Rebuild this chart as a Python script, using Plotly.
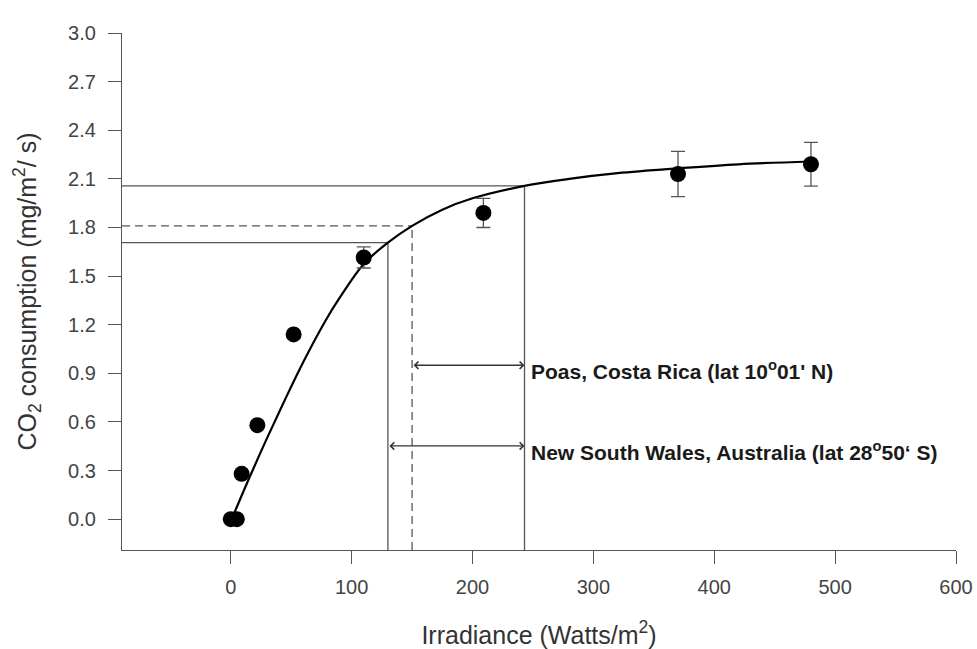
import plotly.graph_objects as go

# measured data (irradiance W/m2, CO2 consumption mg/m2/s)
irradiance = [0, 5, 9, 22, 52, 110, 209, 370, 480]
co2 = [0.0, 0.0, 0.28, 0.58, 1.14, 1.615, 1.89, 2.13, 2.19]
co2_err = [0, 0, 0, 0, 0, 0.065, 0.09, 0.14, 0.135]

# fitted curve
curve_x = [3, 15, 30, 45, 60, 78, 90, 110, 130, 150, 175, 200, 243, 280, 320, 370, 420, 480]
curve_y = [0.04, 0.25, 0.50, 0.74, 0.97, 1.22, 1.365, 1.575, 1.706, 1.81, 1.91, 1.98,
           2.057, 2.10, 2.135, 2.165, 2.19, 2.207]

# reference crossings on the curve
ref_x = [130, 150, 243]
ref_y = [1.706, 1.81, 2.057]

# annotated ranges
range_labels = ["Poas, Costa Rica (lat 10<sup>o</sup>01' N)",
                "New South Wales, Australia (lat 28<sup>o</sup>50‘ S)"]
range_start = [150, 130]
range_end = [243, 243]
range_level = [0.95, 0.452]

x_ticks = [0, 100, 200, 300, 400, 500, 600]
y_ticks = [0.0, 0.3, 0.6, 0.9, 1.2, 1.5, 1.8, 2.1, 2.4, 2.7, 3.0]

x_min, x_max = -90, 600
y_min, y_max = -0.19, 3.0

fig = go.Figure()

fig.add_trace(go.Scatter(x=curve_x, y=curve_y, mode="lines",
                         line=dict(color="black", width=2.2, shape="spline"),
                         hoverinfo="skip", showlegend=False))

fig.add_trace(go.Scatter(x=irradiance, y=co2, mode="markers",
                         marker=dict(color="black", size=16),
                         error_y=dict(type="data", array=co2_err, color="#555555",
                                      thickness=1.3, width=7),
                         showlegend=False))

dashes = ["solid", "8px,5px", "solid"]
for xv, yv, d in zip(ref_x, ref_y, dashes):
    fig.add_shape(type="line", x0=x_min, x1=xv, y0=yv, y1=yv, xref="x", yref="y",
                  line=dict(color="#555555", width=1.3, dash=d), layer="below")
    fig.add_shape(type="line", x0=xv, x1=xv, y0=y_min, y1=yv, xref="x", yref="y",
                  line=dict(color="#555555", width=1.3, dash=d), layer="below")

for lab, xs, xe, yl in zip(range_labels, range_start, range_end, range_level):
    fig.add_annotation(x=xe, y=yl, ax=xs, ay=yl, xref="x", yref="y", axref="x", ayref="y",
                       showarrow=True, arrowside="end+start", arrowhead=4, startarrowhead=4,
                       arrowsize=1.1, startarrowsize=1.1, arrowwidth=1.3,
                       arrowcolor="#333333", text="")
    fig.add_annotation(x=xe + 4, y=yl - 0.03, xref="x", yref="y", text=lab, showarrow=False,
                       xanchor="left", yanchor="middle",
                       font=dict(family="Arial, Liberation Sans", size=21, color="#1a1a1a",
                                 weight="bold"))

axis_common = dict(showline=True, linecolor="#555555", linewidth=1.3, ticks="outside",
                   ticklen=13, tickcolor="#555555", tickwidth=1.3, showgrid=False,
                   zeroline=False, mirror=False, automargin=False,
                   tickfont=dict(family="Arial, Liberation Sans", size=20, color="#444444"))

fig.update_xaxes(range=[x_min, x_max], tickvals=x_ticks, ticklabelstandoff=6,
                 title=dict(text="Irradiance (Watts/m<sup>2</sup>)", standoff=32,
                            font=dict(family="Arial, Liberation Sans", size=25, color="#333333")),
                 **axis_common)
fig.update_yaxes(range=[y_min, y_max], tickvals=y_ticks, tickformat=".1f", ticklabelstandoff=8,
                 title=dict(text="CO<sub>2</sub> consumption (mg/m<sup>2</sup>/ s)", standoff=24,
                            font=dict(family="Arial, Liberation Sans", size=25, color="#333333")),
                 **axis_common)

fig.update_layout(width=977, height=649, margin=dict(l=122, r=21, t=33, b=99, autoexpand=False),
                  plot_bgcolor="white", paper_bgcolor="white")

fig.write_html("out.html", config={"displayModeBar": False},
               post_script="document.body.style.margin='0';document.body.style.overflow='hidden';")
